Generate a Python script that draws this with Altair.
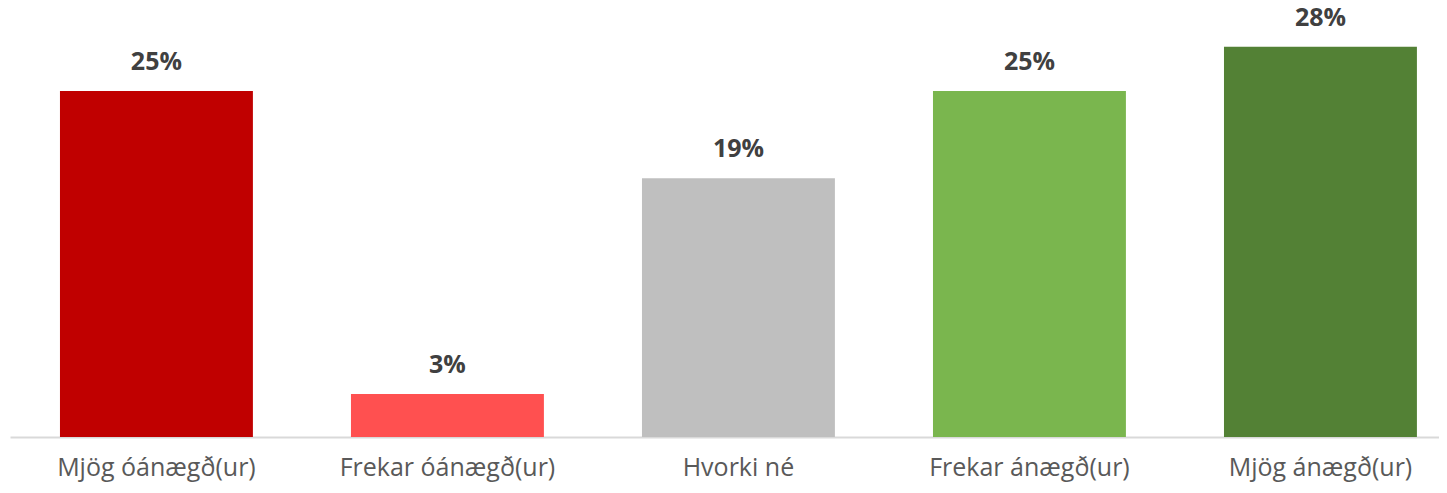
import altair as alt
import pandas as pd

categories = ["Mjög óánægð(ur)", "Frekar óánægð(ur)", "Hvorki né", "Frekar ánægð(ur)", "Mjög ánægð(ur)"]
values = [0.25, 0.031, 0.187, 0.25, 0.282]
colors = ["#C00000", "#FF5050", "#BFBFBF", "#7AB64E", "#538135"]

df = pd.DataFrame({"cat": categories, "val": values})

base = alt.Chart(df).encode(
    x=alt.X(
        "cat:N",
        sort=categories,
        scale=alt.Scale(paddingInner=0.337, paddingOuter=0.1238, align=0.6935),
        axis=alt.Axis(
            title=None,
            labelAngle=0,
            ticks=False,
            domainColor="#D9D9D9",
            domainWidth=2,
            labelFont="Open Sans",
            labelFontSize=25,
            labelColor="#595959",
            labelBaseline="alphabetic",
            labelPadding=38,
            labelLimit=500,
            grid=False,
        ),
    ),
    y=alt.Y("val:Q", scale=alt.Scale(domain=[0, 0.31]), axis=None),
)

bars = base.mark_bar().encode(
    color=alt.Color("cat:N", scale=alt.Scale(domain=categories, range=colors), legend=None)
)

labels = base.mark_text(
    dy=-21,
    baseline="alphabetic",
    font="Open Sans",
    fontSize=25,
    fontWeight="bold",
    color="#404040",
).encode(text=alt.Text("val:Q", format=".0%"))

chart = (
    (bars + labels)
    .properties(
        width=1429,
        height=429,
        autosize="none",
        padding={"left": 2, "top": 0, "right": 0, "bottom": 48},
        background="white",
    )
    .configure_view(strokeWidth=0)
)

chart.save("out.html", embed_options={"renderer": "svg", "actions": False})
